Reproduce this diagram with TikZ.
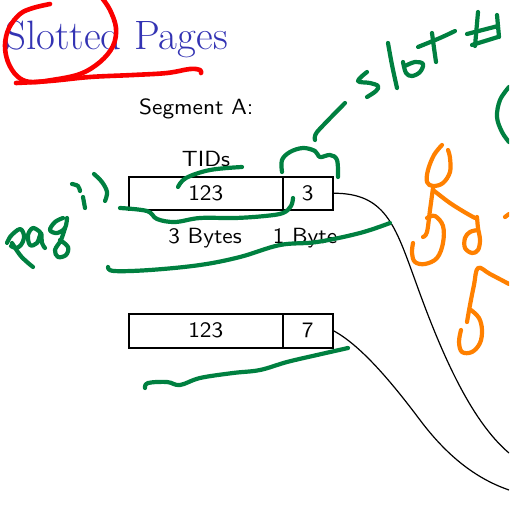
\documentclass[tikz,border=0pt]{standalone}
\usepackage{fontspec}
\newfontfamily\slidesans{lmsans10-regular.otf}[FakeStretch=1.06]
\definecolor{titleblue}{RGB}{51,51,179}
\definecolor{inkred}{RGB}{250,0,0}
\definecolor{inkgreen}{RGB}{0,128,64}
\definecolor{inkorange}{RGB}{255,128,0}
\tikzset{
  label/.style={font=\slidesans\fontsize{22}{26}\selectfont, inner sep=0pt},
  cell/.style={draw, line width=1.5pt, inner sep=0pt, anchor=north west,
               font=\slidesans\fontsize{22}{26}\selectfont},
  wire/.style={line width=1.2pt},
  pen/.style={line width=4.2pt, line cap=round, line join=round},
  redpen/.style={pen, inkred, line width=4.6pt},
  greenpen/.style={pen, inkgreen},
  orangepen/.style={pen, inkorange},
}
\begin{document}
\begin{tikzpicture}[x=1pt, y=-1pt]
\useasboundingbox (0,0) rectangle (509,519);
\clip (0,0) rectangle (509,519);

% slide content
\node[anchor=base west, inner sep=0pt, text=titleblue,
      font=\fontsize{41}{48}\selectfont] (title) at (5,50) {Slotted Pages};
\node[label, anchor=base west] (segA) at (139,114) {Segment A:};
\node[label, anchor=base] (tids) at (206,166) {TIDs};

\node[cell, minimum width=154pt, minimum height=33pt] (r1a) at (128,176) {123};
\node[cell, minimum width=50pt, minimum height=33pt] (r1b) at (282,176) {3};
\node[label, anchor=base] (bytes3) at (205,243) {3 Bytes};
\node[label, anchor=base] (byte1) at (305,243) {1 Byte};

\node[cell, minimum width=154pt, minimum height=34pt] (r2a) at (128,313) {123};
\node[cell, minimum width=50pt, minimum height=34pt] (r2b) at (282,313) {7};

% pointers leaving the slots
\coordinate (c1) at (509,453);
\coordinate (c2) at (509,490);
\draw[wire] (r1b.east) .. controls (385,193) and (395,225) .. (415,280)
            .. controls (440,350) and (470,420) .. (c1);
\draw[wire] (r2b.east) .. controls (360,345) and (390,380) .. (420,420)
            .. controls (450,460) and (480,480) .. (c2);

% red ink: circle and underline of the title
\draw[redpen] plot[smooth, tension=0.6] coordinates {(50,4) (33,8) (20,14) (9,28) (5,45) (8,62) (17,76) (30,82) (52,80) (80,74) (100,62) (113,46) (116,28) (110,10) (102,-2)};
\draw[redpen] plot[smooth, tension=0.6] coordinates {(16,83) (50,81) (90,77) (133,75) (167,73) (190,69) (200,70) (201,73)};

% green ink
\draw[greenpen] plot[smooth, tension=0.6] coordinates {(178,187) (186,178) (210,170) (242,167)};
\draw[greenpen] plot[smooth, tension=0.6] coordinates {(120,208) (147,211) (157,219) (175,222) (200,218) (235,218) (265,216) (283,213) (291,206) (293,198)};
\draw[greenpen] plot[smooth, tension=0.6] coordinates {(282,172) (282,160) (290,152) (303,148) (315,151) (320,157) (330,155) (337,160) (338,177)};
\draw[greenpen] plot[smooth, tension=0.4] coordinates {(315,140) (317,132) (345,103)};
\draw[greenpen] plot[smooth, tension=0.6] coordinates {(367,72) (358,81) (370,83) (378,86) (376,91) (367,97)};
\draw[greenpen] plot[smooth, tension=0.6] coordinates {(388,43) (392,65) (397,88)};
\draw[greenpen] plot[smooth, tension=0.6] coordinates {(403,62) (406,73) (412,76) (420,72) (423,64) (415,62) (405,66)};
\draw[greenpen] plot[smooth, tension=0.6] coordinates {(432,33) (434,48) (436,62)};
\draw[greenpen] plot[smooth, tension=0.6] coordinates {(418,47) (440,38) (455,31)};
\draw[greenpen] (478,12) -- (475,46);
\draw[greenpen] (497,15) -- (499,37);
\draw[greenpen] (467,34) -- (498,26);
\draw[greenpen] (472,45) -- (498,37);
\draw[greenpen] plot[smooth, tension=0.6] coordinates {(509,87) (500,100) (497,117) (502,132) (509,142)};
\draw[greenpen] plot[smooth, tension=0.6] coordinates {(108,267) (114,271) (150,270) (200,265) (240,257) (280,245) (317,242) (360,233) (390,223)};
\draw[greenpen] plot[smooth, tension=0.6] coordinates {(145,388) (148,383) (167,382) (180,385) (200,378) (233,373) (260,370) (287,362) (317,355) (348,348)};
% handwritten "pag id"
\draw[greenpen] plot[smooth, tension=0.6] coordinates {(7,243) (10,237) (15,232) (20,229) (23,232) (24,238) (21,245) (16,248) (11,246)};
\draw[greenpen] plot[smooth, tension=0.6] coordinates {(12,243) (20,255) (27,262) (33,267)};
\draw[greenpen] plot[smooth, tension=0.6] coordinates {(40,232) (33,228) (28,235) (30,245) (37,243) (41,233) (42,243) (45,248)};
\draw[greenpen] plot[smooth, tension=0.6] coordinates {(63,218) (55,222) (50,230) (57,233) (65,228) (67,218)};
\draw[greenpen] plot[smooth, tension=0.6] coordinates {(65,228) (61,240) (55,250) (58,257) (66,255) (68,247) (60,240)};
\draw[greenpen] plot[smooth, tension=0.6] coordinates {(72,184) (78,186) (80,191)};
\draw[greenpen] (83,197) -- (85,208);
\draw[greenpen] plot[smooth, tension=0.6] coordinates {(94,174) (102,182) (107,192) (105,201)};

% orange ink
\draw[orangepen] plot[smooth, tension=0.6] coordinates {(442,145) (434,155) (428,170) (427,182) (433,186) (443,183) (450,172) (450,158) (448,150)};
\draw[orangepen] plot[smooth, tension=0.6] coordinates {(433,188) (430,210) (427,232) (423,237)};
\draw[orangepen] plot[smooth, tension=0.6] coordinates {(433,190) (450,203) (466,213) (475,218)};
\draw[orangepen] plot[smooth, tension=0.6] coordinates {(427,218) (435,216) (443,226) (443,243) (437,258) (425,264) (415,262) (412,253) (413,243)};
\draw[orangepen] plot[smooth, tension=0.6] coordinates {(477,217) (478,228) (480,240) (478,250) (472,253) (465,248) (465,238) (470,232) (478,230)};
\draw[orangepen] plot[smooth, tension=0.6] coordinates {(509,284) (490,274) (478,268) (474,285) (470,305) (467,322)};
\draw[orangepen] plot[smooth, tension=0.6] coordinates {(471,310) (479,318) (482,330) (480,343) (472,352) (462,352) (459,342) (461,330)};
\draw[orangepen] (505,217) -- (509,214);
\end{tikzpicture}
\end{document}
